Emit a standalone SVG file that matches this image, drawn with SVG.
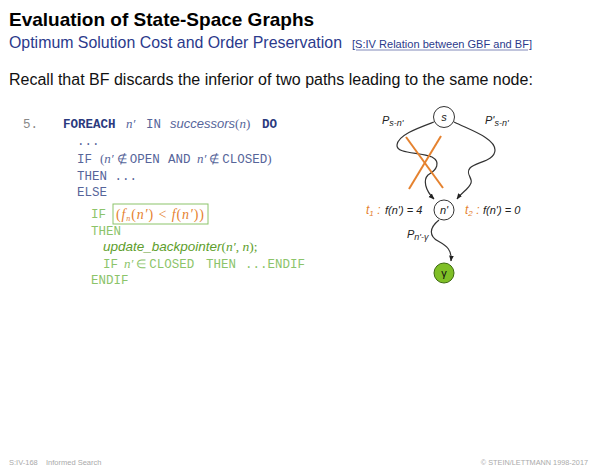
<svg xmlns="http://www.w3.org/2000/svg" width="600" height="467" viewBox="0 0 600 467">
<defs>
<style>
.sans{font-family:"Liberation Sans",Arial,sans-serif}
.mono{font-family:"Liberation Mono","Courier New",monospace;font-size:12.5px}
.kw{font-family:"Liberation Mono","Courier New",monospace;font-size:12.5px}
.serif{font-family:"Liberation Serif","Times New Roman",serif}
.it{font-style:italic}
.b{font-weight:bold}
.blue{fill:#56659a}
.dblue{fill:#2b3a7e}
.green{fill:#8cc46a}
.dgreen{fill:#5e9e2c}
.orange{fill:#e5822f}
.lbl{font-family:"Liberation Sans",Arial,sans-serif;font-style:italic;font-size:11px;fill:#222}
.node{fill:#fff;stroke:#333;stroke-width:1}
.edge{fill:none;stroke:#333;stroke-width:1.2}
</style>
<marker id="ah" viewBox="0 0 10 10" refX="9" refY="5" markerWidth="6" markerHeight="6" orient="auto" markerUnits="userSpaceOnUse">
<path d="M0,1 L10,5 L0,9 z" fill="#222"/>
</marker>
</defs>
<rect width="600" height="467" fill="#fff"/>

<text x="9" y="26" class="sans b" font-size="19" fill="#000">Evaluation of State-Space Graphs</text>
<text x="9" y="48" class="sans" font-size="15.9" fill="#2b3a8c">Optimum Solution Cost and Order Preservation</text>
<text x="352" y="48" class="sans" font-size="10.4" fill="#2b3a8c" textLength="180" lengthAdjust="spacingAndGlyphs">[S:IV Relation between GBF and BF]</text>
<line x1="356" y1="50" x2="528" y2="50" stroke="#2b3a8c" stroke-width="0.6"/>
<text x="9" y="85" class="sans" font-size="16" fill="#111">Recall that BF discards the inferior of two paths leading to the same node:</text>

<g id="code">
<text x="23" y="128" class="mono" fill="#888">5.</text>
<text y="128" class="mono blue"><tspan x="63" class="b dblue">FOREACH</tspan><tspan x="126" class="serif it" font-size="13">n′</tspan><tspan x="146">IN</tspan><tspan x="170" class="sans it" font-size="13">successors</tspan><tspan class="serif" font-size="13">(</tspan><tspan class="serif it" font-size="13">n</tspan><tspan class="serif" font-size="13">)</tspan><tspan x="262" class="b dblue">DO</tspan></text>
<text x="77" y="145" class="mono blue">...</text>
<text y="163" class="mono blue"><tspan x="77">IF</tspan><tspan x="100" class="serif" font-size="13">(</tspan><tspan class="serif it" font-size="13">n′</tspan><tspan class="serif" font-size="12"> ∉ </tspan><tspan class="kw">OPEN</tspan><tspan x="168">AND</tspan><tspan x="197" class="serif it" font-size="13">n′</tspan><tspan class="serif" font-size="12"> ∉ </tspan><tspan class="kw">CLOSED</tspan><tspan class="serif" font-size="13">)</tspan></text>
<text x="77" y="180" class="mono blue">THEN ...</text>
<text x="77" y="196" class="mono blue">ELSE</text>
<text x="91" y="218" class="mono green">IF</text>
<rect x="113" y="204" width="95" height="20" fill="none" stroke="#8cc46a" stroke-width="1"/>
<text x="116" y="219" class="serif orange" font-size="14" textLength="88" lengthAdjust="spacing">(<tspan class="it">f</tspan><tspan class="it" font-size="8" dy="2">n</tspan><tspan dy="-2">(</tspan><tspan class="it">n′</tspan>) &lt; <tspan class="it">f</tspan>(<tspan class="it">n′</tspan>))</text>
<text x="91" y="235" class="mono green">THEN</text>
<text x="103" y="251" class="sans it dgreen" font-size="13.5">update_backpointer<tspan class="serif" font-style="normal">(</tspan><tspan class="serif">n′</tspan><tspan class="serif" font-style="normal">, </tspan><tspan class="serif">n</tspan><tspan class="serif" font-style="normal">);</tspan></text>
<text y="268" class="mono green"><tspan x="103">IF</tspan><tspan x="124" class="serif it" font-size="13">n′</tspan><tspan class="serif" font-size="12"> ∈ </tspan><tspan class="kw">CLOSED</tspan><tspan x="206">THEN</tspan><tspan x="245">...ENDIF</tspan></text>
<text x="91" y="284" class="mono green">ENDIF</text>
</g>

<g id="connectors">
<path class="edge" d="M434,122 C418,128 398,135 397,145 C396,154 420,152 432,157 C441,162 437,170 428,175 C423,180 425,190 434,199" marker-end="url(#ah)"/>
<path class="edge" d="M454,122 C470,130 495,138 495,150 C495,161 476,162 470,168 C465,174 473,178 471,183 C469,189 462,192 457,199" marker-end="url(#ah)"/>
<path class="edge" d="M439,220 C429,228 429,236 438,241 C447,246 452,250 451,261" marker-end="url(#ah)"/>
<line x1="406" y1="137" x2="443" y2="188" stroke="#e5822f" stroke-width="2"/>
<line x1="441" y1="136" x2="409" y2="189" stroke="#e5822f" stroke-width="2"/>
</g>

<g id="node-s">
<circle class="node" cx="444" cy="117" r="10.5"/>
<text x="444" y="121" text-anchor="middle" class="lbl" font-size="12">s</text>
</g>
<g id="node-n">
<circle class="node" cx="444" cy="210" r="10"/>
<text x="444" y="214" text-anchor="middle" class="lbl">n'</text>
</g>
<g id="node-gamma">
<circle cx="444" cy="273" r="10" fill="#7fbf26" stroke="#3e6a10" stroke-width="1"/>
<text x="444" y="277" text-anchor="middle" class="sans" font-size="11" fill="#111">γ</text>
</g>

<g id="labels">
<text x="382" y="124" class="lbl" font-size="13">P<tspan font-size="9" dy="2">s-n'</tspan></text>
<text x="485" y="124" class="lbl" font-size="13">P'<tspan font-size="9" dy="2">s-n'</tspan></text>
<text x="407" y="238" class="lbl" font-size="13">P<tspan font-size="9" dy="2">n'-γ</tspan></text>
<text x="366" y="214" class="lbl"><tspan fill="#e5822f" font-size="12">t<tspan font-size="8" dy="2">1</tspan><tspan dy="-2"> :</tspan></tspan><tspan x="385">f(n') = 4</tspan></text>
<text x="465" y="214" class="lbl"><tspan fill="#e5822f" font-size="12">t<tspan font-size="8" dy="2">2</tspan><tspan dy="-2"> :</tspan></tspan><tspan x="483">f(n') = 0</tspan></text>
</g>

<text y="465" class="sans" font-size="7.5" fill="#aaa"><tspan x="9">S:IV-168</tspan><tspan x="46">Informed Search</tspan></text>
<text x="588" y="465" text-anchor="end" class="sans" font-size="7.3" fill="#aaa">© STEIN/LETTMANN 1998-2017</text>
</svg>
